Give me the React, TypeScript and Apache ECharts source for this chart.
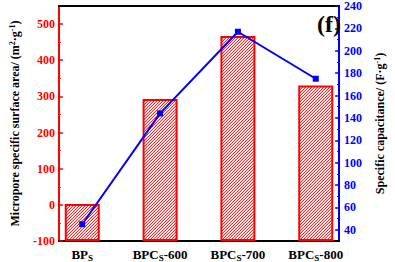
import React, { useEffect, useRef } from 'react';
import * as echarts from 'echarts';

const categories = ['BP{s|S}', 'BPC{s|S}-600', 'BPC{s|S}-700', 'BPC{s|S}-800'];
const categoryPositions = [0, 1, 2, 3];
const surfaceArea = [2, 293, 467, 330];
const capacitance = [45, 144, 217, 175];
const leftTicks = [-100, 0, 100, 200, 300, 400, 500];
const rightTicks = [40, 60, 80, 100, 120, 140, 160, 180, 200, 220, 240];

const FONT = "'Liberation Serif', 'Times New Roman', serif";

function makeHatch(): HTMLCanvasElement {
  const c = document.createElement('canvas');
  c.width = 3;
  c.height = 3;
  const ctx = c.getContext('2d')!;
  ctx.fillStyle = '#ffffff';
  ctx.fillRect(0, 0, 3, 3);
  ctx.fillStyle = '#ff2a2a';
  ctx.fillRect(0, 2, 1, 1);
  ctx.fillRect(1, 1, 1, 1);
  ctx.fillRect(2, 0, 1, 1);
  ctx.fillStyle = '#ffc8c8';
  ctx.fillRect(0, 1, 1, 1);
  ctx.fillRect(1, 0, 1, 1);
  ctx.fillRect(2, 2, 1, 1);
  return c;
}

export default function App() {
  const ref = useRef<HTMLDivElement>(null);
  useEffect(() => {
    document.body.style.margin = '0';
    const chart = echarts.init(ref.current!, null, { renderer: 'svg' });
    const grid = { left: 40, right: 41, top: 6, bottom: 21 };
    const hatch = makeHatch();
    chart.setOption({
      animation: false,
      textStyle: { fontFamily: FONT },
      grid,
      graphic: [
        {
          type: 'text',
          x: 317,
          y: 12,
          z: 10,
          style: { text: '(f)', font: `bold 24px ${FONT}`, fill: '#000', verticalAlign: 'top', align: 'left' },
        },
      ],
      xAxis: [
        {
          type: 'value',
          min: -0.3,
          max: 3.3,
          position: 'bottom',
          splitLine: { show: false },
          axisLine: { show: true, onZero: false, lineStyle: { color: '#000', width: 2 } },
          axisTick: { show: true, inside: true, length: 4, lineStyle: { color: '#000', width: 1.5 }, customValues: categoryPositions },
          axisLabel: {
            customValues: categoryPositions,
            margin: 5,
            color: '#000',
            fontFamily: FONT,
            fontWeight: 'bold',
            fontSize: 13,
            formatter: (v: number) => categories[Math.round(v)] ?? '',
            rich: {
              s: { fontSize: 9, fontWeight: 'bold', fontFamily: FONT, color: '#000', verticalAlign: 'bottom', padding: [7, 0, 0, 0] },
            },
          },
        },
        {
          type: 'value',
          min: -0.3,
          max: 3.3,
          position: 'top',
          splitLine: { show: false },
          axisLine: { show: true, onZero: false, lineStyle: { color: '#000', width: 2 } },
          axisTick: { show: false },
          axisLabel: { show: false },
        },
      ],
      yAxis: [
        {
          type: 'value',
          min: -100,
          max: 550,
          interval: 100,
          startValue: -100,
          position: 'left',
          splitLine: { show: false },
          axisLine: { show: true, onZero: false, lineStyle: { color: '#ff0000', width: 2 } },
          axisTick: { show: true, inside: true, length: 4, lineStyle: { color: '#ff0000', width: 1.5 }, customValues: leftTicks },
          minorTick: { show: true, splitNumber: 2, length: 2, lineStyle: { color: '#ff0000', width: 1 } },
          axisLabel: {
            customValues: leftTicks,
            margin: 4,
            color: '#ff0000',
            fontFamily: FONT,
            fontWeight: 'bold',
            fontSize: 12,
          },
          name: 'Micropore specific surface area/ (m{sup|2}·g{sup|-1})',
          nameLocation: 'middle',
          nameRotate: 90,
          nameGap: 32,
          nameTextStyle: {
            color: '#000',
            fontFamily: FONT,
            fontWeight: 'bold',
            fontSize: 12,
            lineHeight: 14,
            rich: {
              sup: { fontSize: 8, fontWeight: 'bold', fontFamily: FONT, color: '#000', verticalAlign: 'top', lineHeight: 10 },
            },
          },
        },
        {
          type: 'value',
          min: 30,
          max: 240,
          splitNumber: 10,
          position: 'right',
          splitLine: { show: false },
          axisLine: { show: true, onZero: false, lineStyle: { color: '#0000ff', width: 2 } },
          axisTick: { show: true, inside: true, length: 4, lineStyle: { color: '#0000ff', width: 1.5 }, customValues: rightTicks },
          minorTick: { show: true, splitNumber: 2, length: 2, lineStyle: { color: '#0000ff', width: 1 } },
          axisLabel: {
            customValues: rightTicks,
            margin: 5,
            color: '#0000ff',
            fontFamily: FONT,
            fontWeight: 'bold',
            fontSize: 12,
          },
          name: 'Specific capacitance/ (F·g{sup|-1})',
          nameLocation: 'middle',
          nameRotate: 90,
          nameGap: 32,
          nameTextStyle: {
            color: '#000',
            fontFamily: FONT,
            fontWeight: 'bold',
            fontSize: 12,
            lineHeight: 14,
            rich: {
              sup: { fontSize: 8, fontWeight: 'bold', fontFamily: FONT, color: '#000', verticalAlign: 'top', lineHeight: 10 },
            },
          },
        },
      ],
      series: [
        {
          type: 'bar',
          xAxisIndex: 0,
          yAxisIndex: 0,
          barWidth: 35,
          data: categoryPositions.map((x, i) => [x, surfaceArea[i]]),
          itemStyle: {
            color: { image: hatch, repeat: 'repeat' },
            borderColor: '#ff0000',
            borderWidth: 2,
          },
          z: 2,
        },
        {
          type: 'line',
          xAxisIndex: 0,
          yAxisIndex: 1,
          data: categoryPositions.map((x, i) => [x, capacitance[i]]),
          symbol: 'rect',
          symbolSize: 6,
          lineStyle: { color: '#0000ff', width: 2 },
          itemStyle: { color: '#0000ff' },
          z: 3,
        },
      ],
    });
    return () => chart.dispose();
  }, []);
  return <div ref={ref} style={{ position: 'absolute', left: 0, top: 0, width: 395, height: 262 }} />;
}
